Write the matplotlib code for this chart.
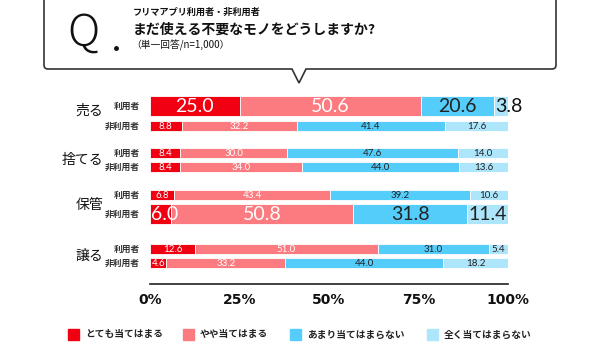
import matplotlib.pyplot as plt
from matplotlib.patches import PathPatch
from matplotlib.path import Path

plt.rcParams['font.family'] = ['Noto Sans CJK JP', 'DejaVu Sans']

categories = ['売る', '捨てる', '保管', '譲る']
groups = ['利用者', '非利用者']
series = ['とても当てはまる', 'やや当てはまる', 'あまり当てはまらない', '全く当てはまらない']
colors = ['#f00010', '#fb7b80', '#55cdfb', '#ade5fb']
text_colors = ['white', 'white', '#222222', '#222222']

# rows: (category, group) in display order
values = [
    [25.0, 50.6, 20.6, 3.8],   # 売る 利用者
    [8.8, 32.2, 41.4, 17.6],   # 売る 非利用者
    [8.4, 30.0, 47.6, 14.0],   # 捨てる 利用者
    [8.4, 34.0, 44.0, 13.6],   # 捨てる 非利用者
    [6.8, 43.4, 39.2, 10.6],   # 保管 利用者
    [6.0, 50.8, 31.8, 11.4],   # 保管 非利用者
    [12.6, 51.0, 31.0, 5.4],   # 譲る 利用者
    [4.6, 33.2, 44.0, 18.2],   # 譲る 非利用者
]
highlight = [0, 5]  # rows drawn with big bars/labels
ticks = [0, 25, 50, 75, 100]

row_y = [106, 126, 153, 167, 195, 214, 249, 263]
cat_y = [111, 160, 205, 256]

fig = plt.figure(figsize=(6, 3.5), dpi=100)

# background overlay in pixel coords
bg = fig.add_axes([0, 0, 1, 1])
bg.set_xlim(0, 600)
bg.set_ylim(350, 0)
bg.axis('off')

# speech bubble
L, R, T, B, r = 44, 556, -10, 69, 4
verts = [(L, T), (L, B - r), (L, B), (L + r, B), (292, B), (299, 83), (306, B),
         (R - r, B), (R, B), (R, B - r), (R, T)]
codes = [Path.MOVETO, Path.LINETO, Path.CURVE3, Path.CURVE3, Path.LINETO, Path.LINETO,
         Path.LINETO, Path.LINETO, Path.CURVE3, Path.CURVE3, Path.LINETO]
bg.add_patch(PathPatch(Path(verts, codes), facecolor='white', edgecolor='#333333', lw=1.2))

bg.text(84, 33, 'Q', fontsize=32, fontweight='light', ha='center', va='center', color='#111111')
bg.plot([116], [48], marker='o', ms=2.5, color='#111111')
bg.text(133, 12, 'フリマアプリ利用者・非利用者', fontsize=6.6, fontweight='bold', va='center', color='#111111')
bg.text(133, 30, 'まだ使える不要なモノをどうしますか?', fontsize=10, fontweight='bold', va='center', color='#111111')
bg.text(131, 45, '（単一回答/n=1,000）', fontsize=7, va='center', color='#111111')

for c, y in zip(categories, cat_y):
    bg.text(103, y, c, fontsize=10, ha='right', va='center', color='#111111')
for i, y in enumerate(row_y):
    bg.text(140, y, groups[i % 2], fontsize=6.3, fontweight='bold', ha='right', va='center', color='#333333')

# bars axes: x 150..508 px, y in pixel units
ax = fig.add_axes([150 / 600, 1 - 310 / 350, 358 / 600, 220 / 350])
ax.set_xlim(0, 100)
ax.set_ylim(310, 90)
ax.axis('off')
ax.patch.set_alpha(0)

for i, vals in enumerate(values):
    big = i in highlight
    h = 20 if big else 10
    left = 0
    for j, v in enumerate(vals):
        ax.barh(row_y[i], v, left=left, height=h, color=colors[j], edgecolor='white', linewidth=0.6)
        left += v

for i, vals in enumerate(values):
    big = i in highlight
    fs = 14 if big else 7
    left = 0
    for j, v in enumerate(vals):
        if big and v < 8:
            ax.text(left + 0.2, row_y[i], f'{v:.1f}', fontsize=fs, ha='left', va='center',
                    color='white' if j < 2 else '#111111', family=['Lato', 'DejaVu Sans'], zorder=5)
        else:
            ax.text(left + v / 2, row_y[i], f'{v:.1f}', fontsize=fs, ha='center', va='center',
                    color=text_colors[j], family=['Lato', 'DejaVu Sans'], zorder=5)
        left += v

ax.plot([0, 100], [284, 284], color='#222222', lw=1.2, clip_on=False)
for t in ticks:
    ax.text(t, 300, f'{t}%', fontsize=10, fontweight='bold', ha='center', va='center',
            color='#111111', clip_on=False, family=['DejaVu Sans'])

# legend
leg_x = [68, 183, 290, 427]
for x, s, c in zip(leg_x, series, colors):
    bg.add_patch(plt.Rectangle((x, 329), 11, 11, color=c))
    bg.text(x + 17, 334.5, s, fontsize=7, fontweight='bold', va='center', color='#222222')

fig.savefig('out.png', dpi=100)
